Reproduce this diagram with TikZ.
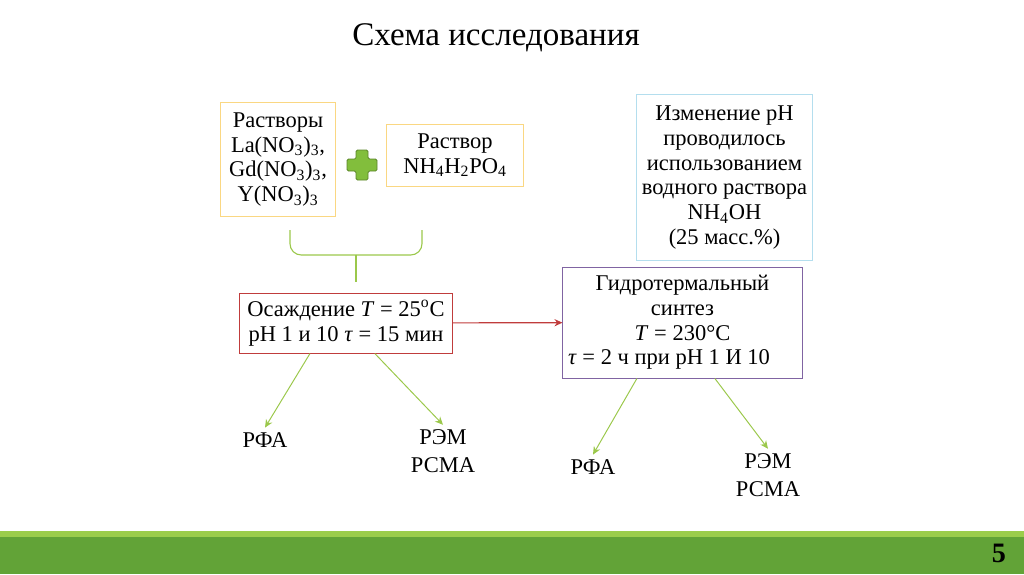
\documentclass[tikz,border=0pt]{standalone}
\usepackage{fontspec}
\setmainfont{Liberation Serif}
\usetikzlibrary{arrows.meta,positioning}
\definecolor{boxgold}{RGB}{250,215,130}
\definecolor{boxblue}{RGB}{180,222,238}
\definecolor{boxred}{RGB}{192,60,60}
\definecolor{boxpurple}{RGB}{128,100,162}
\definecolor{linegreen}{RGB}{155,200,75}
\definecolor{plusgreen}{RGB}{130,190,60}
\definecolor{bardark}{RGB}{98,163,55}
\definecolor{barlight}{RGB}{155,205,75}

\begin{document}
\begin{tikzpicture}[x=0.025cm, y=-0.025cm,
        stepbox/.style={draw, line width=0.7pt, align=center, inner sep=2pt,
          font=\fontsize{16}{17.5}\selectfont},
        result/.style={align=center, font=\fontsize{16}{19.5}\selectfont},
        branch/.style={-{Stealth[length=2mm,width=1.8mm]}, draw=linegreen, line width=0.7pt},
        flow/.style={-{Stealth[length=2mm,width=1.8mm]}, draw=boxred, line width=0.8pt}
      ]
      \useasboundingbox (0,0) rectangle (1024,574);

      % title
      \node[font=\fontsize{23.5}{27}\selectfont] (title) at (496,38) {Схема исследования};

      % starting solutions
      \node[stepbox, draw=boxgold, minimum width=2.85cm, minimum height=2.83cm] (nitrates) at (278,159.5)
        {Растворы\\La(NO\textsubscript{3})\textsubscript{3},\\Gd(NO\textsubscript{3})\textsubscript{3},\\Y(NO\textsubscript{3})\textsubscript{3}};
      \node[stepbox, draw=boxgold, minimum width=3.4cm, minimum height=1.53cm] (phosphate) at (455,155.5)
        {Раствор\\NH\textsubscript{4}H\textsubscript{2}PO\textsubscript{4}};
      \filldraw[fill=plusgreen, draw=plusgreen!70!black, line width=0.6pt, rounded corners=1pt]
        (356,150) -- (368,150) -- (368,159) -- (377,159) -- (377,171) -- (368,171) -- (368,180)
        -- (356,180) -- (356,171) -- (347,171) -- (347,159) -- (356,159) -- cycle;

      \node[stepbox, draw=boxblue, minimum width=4.375cm, minimum height=4.125cm] (note) at (724.5,177.5)
        {Изменение pH\\проводилось\\использованием\\водного раствора\\NH\textsubscript{4}OH\\(25 масс.\%)};

      % brace joining the solutions
      \draw[linegreen, line width=0.8pt, rounded corners=8pt]
        (290,230) -- (290,255) -- (356,255);
      \draw[linegreen, line width=0.8pt, rounded corners=8pt]
        (422,230) -- (422,255) -- (356,255);
      \coordinate (bracetip) at (356,282);
      \draw[linegreen, line width=0.8pt] (356,255) -- (bracetip);

      % precipitation and hydrothermal steps
      \node[stepbox, draw=boxred, minimum width=5.3cm, minimum height=1.5cm] (precip) at (346,323)
        {Осаждение \textit{T} = 25\textsuperscript{o}C\\pH 1 и 10 \textit{τ} = 15 мин};
      \node[stepbox, draw=boxpurple, minimum width=5.975cm, minimum height=2.775cm] (hydro) at (682.5,322.5)
        {Гидротермальный\\синтез\\\textit{T} = 230°C\\\textit{τ} = 2 ч при pH 1 И 10\hspace*{1.2em}};
      \draw[flow] (precip) -- (hydro);

      % analyses
      \node[result] (xrd1) at (265,440) {РФА};
      \node[result] (sem1) at (443,451) {РЭМ\\РСМА};
      \node[result] (xrd2) at (593,467) {РФА};
      \node[result] (sem2) at (768,475) {РЭМ\\РСМА};
      \draw[branch] ([xshift=-0.9cm]precip.south) -- (xrd1.north);
      \draw[branch] ([xshift=0.72cm]precip.south) -- (sem1.north);
      \draw[branch] ([xshift=-1.14cm]hydro.south) -- (xrd2.north);
      \draw[branch] ([xshift=0.81cm]hydro.south) -- (sem2.north);

      % footer bar
      \fill[barlight] (0,531) rectangle (1024,537);
      \fill[bardark] (0,537) rectangle (1024,574);
      \node[font=\fontsize{20}{24}\selectfont\bfseries] (pagenum) at (999,553) {5};
    \end{tikzpicture}
\end{document}
